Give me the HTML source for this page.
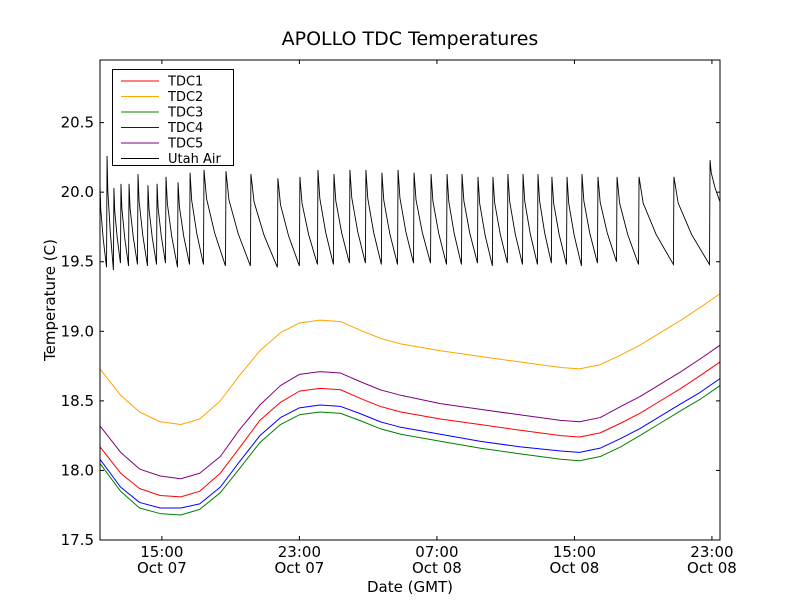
<!DOCTYPE html>
<html><head><meta charset="utf-8"><style>
body{margin:0;background:#fff;}
svg text{font-family:"DejaVu Sans","Liberation Sans",sans-serif;}
</style></head><body>
<svg id="chart" width="800" height="600" xmlns="http://www.w3.org/2000/svg">
<rect width="800" height="600" fill="#fff"/>
<text x="410" y="45" text-anchor="middle" font-size="19">APOLLO TDC Temperatures</text>
<text x="410" y="592" text-anchor="middle" font-size="15">Date (GMT)</text>
<text transform="translate(55,300) rotate(-90)" text-anchor="middle" font-size="15">Temperature (C)</text>
<g id="plot"></g>
<g id="axes"></g>
<g id="legend"></g>
</svg>
<script>
const hours=[0,1.2,2.3,3.5,4.7,5.8,7,8.1,9.3,10.5,11.6,12.8,14,15.1,16.3,17.5,19.8,22.1,24.4,26.8,27.9,29.1,30.3,31.4,32.6,33.8,34.9,36.07];
const tdc1=[18.17,17.98,17.87,17.82,17.81,17.85,17.98,18.16,18.36,18.49,18.57,18.59,18.58,18.52,18.46,18.42,18.37,18.33,18.29,18.25,18.24,18.27,18.34,18.41,18.50,18.59,18.68,18.78];
const tdc2=[18.73,18.54,18.42,18.35,18.33,18.37,18.5,18.68,18.86,18.99,19.06,19.08,19.07,19.01,18.95,18.91,18.86,18.82,18.78,18.74,18.73,18.76,18.83,18.9,18.99,19.08,19.17,19.27];
const tdc3=[18.05,17.85,17.73,17.69,17.68,17.72,17.84,18.01,18.20,18.33,18.40,18.42,18.41,18.36,18.30,18.26,18.21,18.16,18.12,18.08,18.07,18.10,18.17,18.25,18.34,18.43,18.51,18.61];
const tdc4=[18.08,17.88,17.77,17.73,17.73,17.76,17.88,18.06,18.25,18.38,18.45,18.47,18.46,18.41,18.35,18.31,18.26,18.21,18.17,18.14,18.13,18.16,18.23,18.30,18.39,18.48,18.56,18.66];
const tdc5=[18.32,18.13,18.01,17.96,17.94,17.98,18.1,18.29,18.47,18.61,18.69,18.71,18.7,18.64,18.58,18.54,18.48,18.44,18.40,18.36,18.35,18.38,18.46,18.53,18.62,18.71,18.80,18.90];
const utahPeakHours=[0,0.41,0.81,1.22,1.69,2.21,2.79,3.32,3.84,4.54,5.24,6.05,7.33,8.78,10.35,11.63,12.68,13.61,14.54,15.47,16.40,17.34,18.27,19.26,20.19,21.06,21.99,22.86,23.73,24.61,25.48,26.29,27.17,28.04,28.97,30.08,31.36,33.39,35.49];
const utahPeakVals=[20.05,20.26,20.03,20.06,20.06,20.13,20.05,20.06,20.11,20.07,20.14,20.16,20.15,20.13,20.10,20.11,20.16,20.13,20.16,20.16,20.14,20.16,20.14,20.13,20.13,20.13,20.11,20.11,20.13,20.13,20.13,20.11,20.11,20.13,20.11,20.11,20.11,20.11,20.23];
const utahTroughVals=[19.46,19.44,19.49,19.47,19.48,19.47,19.48,19.49,19.46,19.48,19.48,19.47,19.47,19.46,19.47,19.48,19.48,19.49,19.49,19.48,19.48,19.49,19.49,19.48,19.48,19.49,19.47,19.49,19.48,19.48,19.49,19.48,19.47,19.49,19.50,19.48,19.48,19.48,19.93];
const yTicks=[17.5,18.0,18.5,19.0,19.5,20.0,20.5];
const xTickHours=[3.6,11.6,19.6,27.6,35.6];
const xTickLabels1=["15:00","23:00","07:00","15:00","23:00"];
const xTickLabels2=["Oct 07","Oct 07","Oct 08","Oct 08","Oct 08"];
const seriesNames=["TDC1","TDC2","TDC3","TDC4","TDC5","Utah Air"];
const seriesColors=["#ff0000","#ffa500","#008000","#0000ff","#800080","#000000"];

const L=100,R=720,T=60,B=540, X0=0,X1=36.07, Y0=17.5,Y1=20.95;
const sx=h=>L+(h-X0)/(X1-X0)*(R-L);
const sy=v=>B-(v-Y0)/(Y1-Y0)*(B-T);
const NS="http://www.w3.org/2000/svg";
function mk(tag,attrs,parent){const e=document.createElementNS(NS,tag);for(const k in attrs)e.setAttribute(k,attrs[k]);parent.appendChild(e);return e;}
const plot=document.getElementById('plot'),axes=document.getElementById('axes'),leg=document.getElementById('legend');

const tdcs=[tdc1,tdc2,tdc3,tdc4,tdc5];
tdcs.forEach((arr,i)=>{
  const d=arr.map((v,j)=>(j?'L':'M')+sx(hours[j]).toFixed(2)+','+sy(v).toFixed(2)).join('');
  const p=mk('path',{d:d,fill:'none',stroke:seriesColors[i],'stroke-width':1,'stroke-linejoin':'round'},plot);
  
  
});
let d='';
for(let i=0;i<utahPeakHours.length;i++){
  const h=utahPeakHours[i],pv=utahPeakVals[i];
  const nh=i+1<utahPeakHours.length?utahPeakHours[i+1]:X1;
  const tv=utahTroughVals[i];
  d+=(i?'L':'M')+sx(h).toFixed(2)+','+sy(pv).toFixed(2);
  const span=nh-h-(i+1<utahPeakHours.length?0.03:0);
  d+='L'+sx(h+span*0.12).toFixed(2)+','+sy(pv-(pv-tv)*0.3).toFixed(2);
  d+='L'+sx(h+span*0.5).toFixed(2)+','+sy(pv-(pv-tv)*0.66).toFixed(2);
  d+='L'+sx(h+span).toFixed(2)+','+sy(tv).toFixed(2);
}
const up=mk('path',{d:d,fill:'none',stroke:'#000','stroke-width':0.9},plot);



const fr=mk('rect',{x:L,y:T,width:R-L,height:B-T,fill:'none',stroke:'#000','stroke-width':1},axes);


yTicks.forEach(v=>{
  const y=sy(v);
  mk('line',{x1:L,y1:y,x2:L+4,y2:y,stroke:'#000'},axes);
  mk('line',{x1:R,y1:y,x2:R-4,y2:y,stroke:'#000'},axes);
  const t=mk('text',{x:L-6,y:y+5,'text-anchor':'end','font-size':15},axes);
  t.textContent=v.toFixed(1);
  
  
});
xTickHours.forEach((h,i)=>{
  const x=sx(h);
  mk('line',{x1:x,y1:B,x2:x,y2:B-4,stroke:'#000'},axes);
  mk('line',{x1:x,y1:T,x2:x,y2:T+4,stroke:'#000'},axes);
  const t=mk('text',{x:x,y:B+17,'text-anchor':'middle','font-size':15},axes);
  t.textContent=xTickLabels1[i];
  
  
  const t2=mk('text',{x:x,y:B+33,'text-anchor':'middle','font-size':15},axes);
  t2.textContent=xTickLabels2[i];
  
  
});
mk('rect',{x:112.5,y:69.5,width:121,height:96,fill:'#fff',stroke:'#000'},leg);
seriesNames.forEach((n,i)=>{
  const y=81+i*15.5;
  const ln=mk('line',{x1:121,y1:y,x2:159,y2:y,stroke:seriesColors[i],'stroke-width':1},leg);
  
  
  const t=mk('text',{x:168,y:y+4.5,'font-size':13},leg);
  t.textContent=n;
  
  
});
</script>
</body></html>
